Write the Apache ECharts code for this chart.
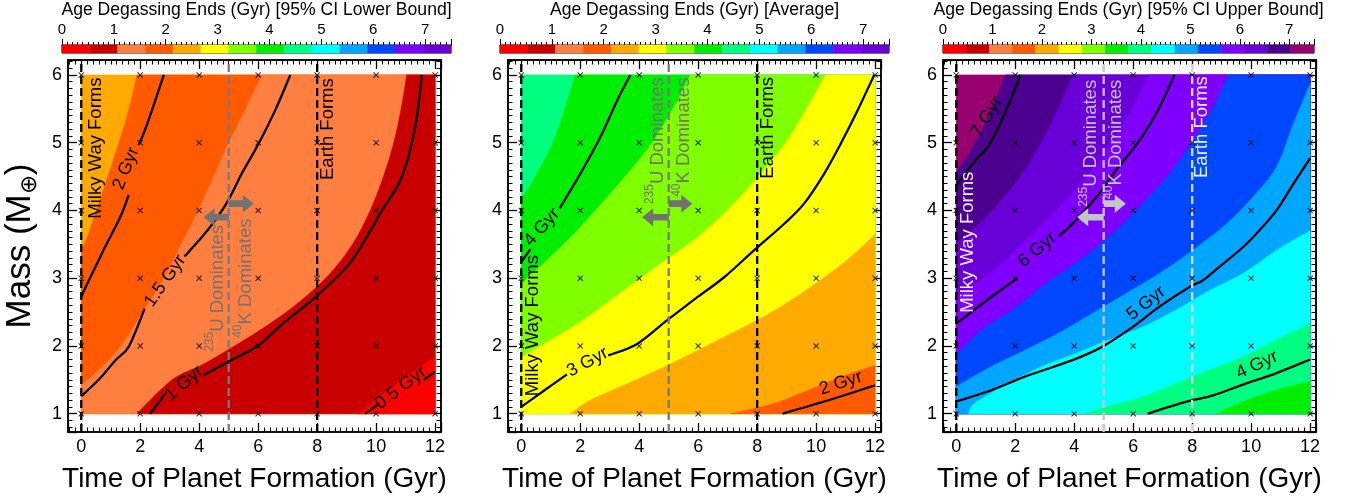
<!DOCTYPE html>
<html><head><meta charset="utf-8">
<script src="https://cdn.jsdelivr.net/npm/echarts@6.0.0/dist/echarts.min.js"></script>
<style>html,body{margin:0;padding:0;background:#fff;}#chart{width:1351px;height:502px;}</style>
</head><body><div id="chart"></div>
<script>
// ================= DATA =================
const formationTimes = [0, 2, 4, 6, 8, 10, 12];     // model grid, Gyr
const planetMasses = [1, 2, 3, 4, 5, 6];            // model grid, Earth masses
const colorbarMax = 7.5;
const bandColors = ['#ff0000','#c80000','#ff7f40','#ff5a00','#ffaa00','#ffff00','#80ff00','#00ee00','#00ff80','#00ffff','#00a6ff','#0048ff','#8000ff','#6a00d8','#4b0090','#990070'];
const bandCounts = [14, 14, 16];
const panelTitles = ['Age Degassing Ends (Gyr) [95% CI Lower Bound]','Age Degassing Ends (Gyr) [Average]','Age Degassing Ends (Gyr) [95% CI Upper Bound]'];

// ---- Panel 1: lower bound. fill boundaries (upper end -> lower end)
const lowBaseBand = 4;
const lowBoundary4 = [[1.89,6],[1.61,5.48],[1.16,4.84],[0.71,4.25],[0.25,3.66],[0,3.4]];
const lowBoundary3 = [[6.13,6],[5.56,5.48],[5.0,4.99],[4.44,4.45],[3.93,3.96],[3.36,3.47],[2.8,2.99],[2.06,2.48],[1.33,1.99],[0.59,1.64],[0,1.42]];
const lowBoundary2 = [[11.04,6],[10.85,5.5],[10.6,5.0],[10.25,4.5],[9.8,4.0],[9.2,3.5],[8.4,3.05],[7.4,2.65],[6.3,2.3],[5.2,2.0],[4.1,1.72],[3.08,1.5],[1.89,1.0]];
const lowBoundary1 = [[12,1.84],[11.33,1.64],[10.65,1.42],[9.97,1.2],[9.41,1.0]];
const lowContour2 = [[2.8,6],[2.4,5.48],[2.12,5.14],[1.95,4.97],null,[1.61,4.23],[1.33,3.91],[0.82,3.47],[0.37,3.07],[0,2.73]];
const lowContour15 = [[7.09,6],[6.58,5.48],[6.02,4.99],[5.45,4.55],[5.0,4.16],[4.55,3.86],[4.1,3.61],[3.5,3.32],null,[2.15,2.55],[1.61,1.99],[1.16,1.79],[0.59,1.5],[0,1.26]];
const lowContour1 = [[11.55,6],[11.33,5.24],[10.88,4.5],[10.2,4.0],[9.75,3.66],[9.07,3.2],[7.94,2.72],[6.81,2.32],[6.02,2.01],[5.0,1.77],[4.15,1.57],null,[2.85,1.3],[2.34,1.0]];
const lowContour05 = [[12,1.62],[11.62,1.5],null,[10.1,1.15],[9.63,1.0]];
const lowLabels = [['2 Gyr',1.52,4.62,68],['1.5 Gyr',2.85,2.96,55],['1 Gyr',3.5,1.45,41],['0.5 Gyr',10.84,1.38,37]];

// ---- Panel 2: average
const avgBaseBand = 8;
const avgBoundary7 = [[1.83,6],[1.49,5.52],[1.1,5.03],[0.65,4.63],[0.19,4.29],[0,4.17]];
const avgBoundary6 = [[5.74,6],[5.17,5.52],[4.49,5.03],[3.7,4.59],[2.8,4.14],[1.89,3.7],[0.98,3.31],[0,2.92]];
const avgBoundary5 = [[10.32,6],[9.7,5.52],[9.02,5.03],[8.12,4.54],[7.1,4.05],[5.97,3.6],[4.72,3.21],[3.48,2.82],[2.23,2.42],[0.98,2.08],[0,1.83]];
const avgBoundary4 = [[12,3.65],[11.17,3.31],[10.27,3.01],[9.14,2.67],[8.0,2.38],[6.87,2.13],[5.74,1.88],[4.61,1.64],[3.48,1.42],[2.34,1.2],[1.66,1.0]];
const avgBoundary3 = [[12,1.71],[10.83,1.54],[9.7,1.34],[8.57,1.15],[7.1,1.0]];
const avgContour4 = [[3.7,6],[3.25,5.62],[2.68,5.08],[2.0,4.54],[1.3,4.03],null,[0.31,3.43],[0,3.24]];
const avgContour3 = [[11.97,6],[11.4,5.47],[10.83,4.98],[10.27,4.54],[9.59,4.1],[8.91,3.8],[7.89,3.41],[6.87,3.01],[5.97,2.72],[4.95,2.38],[3.93,2.03],[2.95,1.86],null,[1.55,1.58],[0.8,1.35],[0,1.1]];
const avgContour2 = [[12,1.42],[10.5,1.21],[8.86,1.0]];
const avgLabels = [['4 Gyr',0.7,3.75,48],['3 Gyr',2.25,1.76,28],['2 Gyr',10.84,1.45,18]];

// ---- Panel 3: upper bound
const highBaseBand = 15;
const highBoundary14 = [[1.67,6],[1.33,5.62],[0.87,5.18],[0.42,4.83],[0,4.56]];
const highBoundary13 = [[3.94,6],[3.48,5.52],[2.92,5.03],[2.24,4.54],[1.44,4.1],[0.65,3.75],[0,3.51]];
const highBoundary12 = [[6.55,6],[5.98,5.52],[5.3,5.03],[4.51,4.54],[3.6,4.1],[2.69,3.71],[1.78,3.31],[0.99,3.02],[0,2.73]];
const highBoundary11 = [[9.22,6],[8.71,5.52],[8.02,5.03],[7.23,4.54],[6.32,4.1],[5.3,3.66],[4.17,3.26],[3.03,2.92],[1.9,2.53],[0.87,2.24],[0,1.87]];
const highBoundary10 = [[12,5.86],[11.43,5.27],[10.86,4.64],[10.07,4.2],[9.16,3.8],[8.02,3.41],[6.89,3.07],[5.75,2.77],[4.62,2.48],[3.48,2.19],[2.35,1.94],[1.21,1.7],[0,1.4]];
const highBoundary9 = [[12,3.7],[10.86,3.41],[9.73,3.07],[8.59,2.82],[7.46,2.53],[6.32,2.28],[5.19,2.09],[4.05,1.89],[2.92,1.7],[1.78,1.45],[0.65,1.16],[0.42,1.0]];
const highBoundary8 = [[12,2.33],[10.86,2.09],[9.73,1.84],[8.59,1.65],[7.46,1.45],[6.32,1.25],[5.19,1.11],[4.39,1.0]];
const highBoundary7 = [[12,1.48],[10.86,1.35],[9.73,1.18],[8.82,1.0]];
const highContour7 = [[2.18,6],[1.78,5.57],[1.38,5.18],[1.04,4.92],[0.65,4.74],[0,4.37]];
const highContour6 = [[7.4,6],[6.89,5.52],[6.21,5.03],[5.41,4.59],[4.85,4.25],[4.05,3.85],[3.48,3.62],null,[2.07,3.0],[1.21,2.73],[0,2.33]];
const highContour5 = [[12,4.77],[11.43,4.39],[10.86,4.0],[10.29,3.71],[9.73,3.46],[8.93,3.17],[8.37,2.97],[7.91,2.87],[6.89,2.58],[5.98,2.28],[4.96,1.99],[3.94,1.79],[2.35,1.55],[1.21,1.35],[0,1.18]];
const highContour4 = [[12,1.8],[10.86,1.6],[9.73,1.43],[8.71,1.27],[7.91,1.19],[7.2,1.1],[6.49,1.0]];
const highLabels = [['7 Gyr',1.04,5.38,58],['6 Gyr',2.75,3.42,40],['5 Gyr',6.44,2.63,38],['4 Gyr',10.2,1.72,25]];

// ---- annotations
const milkyWayText = [[0.5,4.92],[0.38,2.3],[0.38,3.53]];
const earthText = [[8.35,5.2],[8.37,5.22],[8.33,5.23]];
const uraniumText = [[4.55,2.85],[4.55,5.03],[4.5,4.99]];
const potassiumText = [[5.5,3.0],[5.46,5.08],[5.36,5.05]];
const eventTimes = [0, 5, 8];
const crossoverTime = 5;
const arrowLeft = [[3.9,4.15],[3.9,4.1],[3.9,4.1]];
const arrowRight = [[4.1,5.85],[4.1,5.8],[4.1,5.75]];

// ================= BUILD =================
const FONT = '"Liberation Sans", Arial, Helvetica, sans-serif';
const X_LO = 0, X_HI = 12, M_LO = 1, M_HI = 6;
const AX_X = [-0.45, 12.2], AX_Y = [0.73, 6.22];

function regionsFor(base, bounds) {
  const regs = [{curve: null, color: bandColors[base]}];
  bounds.forEach(b => regs.push({curve: b[0], color: bandColors[b[1]]}));
  return regs;
}
function closingCorners(curve) {
  const f = curve[0], l = curve[curve.length - 1], c = [];
  if (l[0] <= X_LO + 1e-9 && l[1] > M_LO) c.push([X_LO, M_LO]);
  c.push([X_HI, M_LO]);
  if (f[1] >= M_HI - 1e-9 && f[0] < X_HI) c.push([X_HI, M_HI]);
  return c;
}
function smoothPath(px) {
  let d = 'M' + px[0][0] + ' ' + px[0][1];
  for (let i = 0; i < px.length - 1; i++) {
    const p0 = px[Math.max(0, i - 1)], p1 = px[i], p2 = px[i + 1], p3 = px[Math.min(px.length - 1, i + 2)];
    const c1 = [p1[0] + (p2[0] - p0[0]) / 6, p1[1] + (p2[1] - p0[1]) / 6];
    const c2 = [p2[0] - (p3[0] - p1[0]) / 6, p2[1] - (p3[1] - p1[1]) / 6];
    d += 'C' + c1[0] + ' ' + c1[1] + ' ' + c2[0] + ' ' + c2[1] + ' ' + p2[0] + ' ' + p2[1];
  }
  return d;
}
function splitSegments(arr) {
  const segs = [[]];
  arr.forEach(p => { if (p === null) segs.push([]); else segs[segs.length - 1].push(p); });
  return segs.filter(s => s.length > 1);
}
const panelRegions = [
  regionsFor(lowBaseBand, [[lowBoundary4,3],[lowBoundary3,2],[lowBoundary2,1],[lowBoundary1,0]]),
  regionsFor(avgBaseBand, [[avgBoundary7,7],[avgBoundary6,6],[avgBoundary5,5],[avgBoundary4,4],[avgBoundary3,3]]),
  regionsFor(highBaseBand, [[highBoundary14,14],[highBoundary13,13],[highBoundary12,12],[highBoundary11,11],[highBoundary10,10],[highBoundary9,9],[highBoundary8,8],[highBoundary7,7]])
];
const panelContours = [
  [lowContour2, lowContour15, lowContour1, lowContour05],
  [avgContour4, avgContour3, avgContour2],
  [highContour7, highContour6, highContour5, highContour4]
];
const panelLabels = [lowLabels, avgLabels, highLabels];
const annColors = [
  {iso:'#727272', milky:'#000', earth:'#000', lines:['#000','#7a7a7a','#000']},
  {iso:'#727272', milky:'#000', earth:'#000', lines:['#000','#7a7a7a','#000']},
  {iso:'#c4c4c4', milky:'#f2ecff', earth:'#f0f0ff', lines:['#000','#c4c4c4','#d6d6d6']}
];

const plotLefts = [68, 508, 943], plotW = 373, plotTop = 60, plotH = 372;
const cbLefts = [62, 500, 943], cbWidths = [389, 389, 371];

function intLabel(v) { const r = Math.round(v); return Math.abs(v - r) < 1e-6 ? String(r) : ''; }

const grids = [], xAxes = [], yAxes = [], series = [];
for (let i = 0; i < 3; i++) grids.push({left: plotLefts[i], top: plotTop, width: plotW, height: plotH, show: true, borderColor: '#000', borderWidth: 1.5, outerBoundsMode: 'none'});
for (let i = 0; i < 3; i++) grids.push({left: cbLefts[i], top: 45, width: cbWidths[i], height: 8, show: true, borderColor: '#000', borderWidth: 1, outerBoundsMode: 'none'});

function plotX(gi, pos, labels) {
  return {type:'value', gridIndex: gi, position: pos, min: AX_X[0], max: AX_X[1], splitNumber: 6,
    axisLine:{show:true, onZero:false, lineStyle:{color:'#000', width:1.5}},
    axisTick:{show:true, inside:true, length:9, lineStyle:{color:'#000', width:1.3}},
    minorTick:{show:true, splitNumber:10, length:4.5, lineStyle:{color:'#000', width:1}},
    splitLine:{show:false}, minorSplitLine:{show:false},
    axisLabel:{show: labels, formatter: intLabel, fontSize:18, color:'#000', margin:6, fontFamily: FONT, hideOverlap:false},
    name: labels ? 'Time of Planet Formation (Gyr)' : '', nameLocation:'middle', nameGap: 33,
    nameTextStyle:{fontSize:28, color:'#000', fontFamily: FONT}};
}
function plotY(gi, pos, labels, name) {
  return {type:'value', gridIndex: gi, position: pos, min: AX_Y[0], max: AX_Y[1], splitNumber: 5,
    axisLine:{show:true, onZero:false, lineStyle:{color:'#000', width:1.5}},
    axisTick:{show:true, inside:true, length:9, lineStyle:{color:'#000', width:1.3}},
    minorTick:{show:true, splitNumber:10, length:4.5, lineStyle:{color:'#000', width:1}},
    splitLine:{show:false}, minorSplitLine:{show:false},
    axisLabel:{show: labels, formatter: intLabel, fontSize:18, color:'#000', margin:6, fontFamily: FONT, hideOverlap:false},
    name: name || '', nameLocation:'middle', nameGap: 27, nameRotate: 90,
    nameTextStyle:{fontSize:35, color:'#000', fontFamily: FONT, rich:{sub:{fontSize:23, fontFamily: FONT, color:'#000', verticalAlign:'bottom', lineHeight:42}, n:{fontSize:35, fontFamily: FONT, color:'#000', lineHeight:42}}}};
}
for (let i = 0; i < 3; i++) {
  xAxes.push(plotX(i, 'bottom', true));
  xAxes.push(plotX(i, 'top', false));
  yAxes.push(plotY(i, 'left', true, i === 0 ? '{n|Mass (M}{sub|⊕}{n|)}' : ''));
  yAxes.push(plotY(i, 'right', false, ''));
}
for (let i = 0; i < 3; i++) {
  xAxes.push({type:'value', gridIndex: 3 + i, position:'top', min:0, max: colorbarMax, splitNumber:7,
    axisLine:{show:true, onZero:false, lineStyle:{color:'#000', width:1}},
    axisTick:{show:true, inside:false, length:6, lineStyle:{color:'#000', width:1}},
    minorTick:{show:true, splitNumber:10, length:3, lineStyle:{color:'#000', width:1}},
    splitLine:{show:false},
    axisLabel:{formatter: intLabel, fontSize:15, color:'#000', margin:8, fontFamily: FONT, hideOverlap:false},
    name: panelTitles[i], nameLocation:'middle', nameGap: 26,
    nameTextStyle:{fontSize:17.6, color:'#000', fontFamily: FONT}});
  yAxes.push({type:'value', gridIndex: 3 + i, min:0, max:1, show:false});
}

for (let i = 0; i < 3; i++) {
  const xi = 2 * i, yi = 2 * i;
  const regs = panelRegions[i];
  // filled bands
  series.push({type:'custom', xAxisIndex: xi, yAxisIndex: yi, z:1, silent:true, animation:false,
    data: regs.map((r, k) => [6, 3, k]),
    renderItem: (params, api) => {
      const r = regs[api.value(2)];
      let d;
      if (!r.curve) {
        const c = [[X_LO,M_LO],[X_HI,M_LO],[X_HI,M_HI],[X_LO,M_HI]].map(p => api.coord(p));
        d = 'M' + c.map(p => p[0] + ' ' + p[1]).join('L') + 'Z';
      } else {
        d = smoothPath(r.curve.map(p => api.coord(p))) + closingCorners(r.curve).map(p => { const q = api.coord(p); return 'L' + q[0] + ' ' + q[1]; }).join('') + 'Z';
      }
      return {type:'path', shape:{pathData: d}, style:{fill: r.color, stroke: r.color, lineWidth: 0.6}};
    }});
  // contour lines
  const segs = [];
  panelContours[i].forEach(c => splitSegments(c).forEach(s => segs.push(s)));
  series.push({type:'custom', xAxisIndex: xi, yAxisIndex: yi, z:3, silent:true, animation:false,
    data: segs.map((s, k) => [s[0][0], s[0][1], k]),
    renderItem: (params, api) => {
      const s = segs[api.value(2)];
      return {type:'path', shape:{pathData: smoothPath(s.map(p => api.coord(p)))}, style:{fill: null, stroke:'#000', lineWidth: 2.3, lineJoin:'round'}};
    }});
  // vertical event lines
  const lc = annColors[i].lines;
  series.push({type:'custom', xAxisIndex: xi, yAxisIndex: yi, z:4, silent:true, clip:false, animation:false,
    data: eventTimes.map((t, k) => [t, 3, k]),
    renderItem: (params, api) => {
      const k = api.value(2), t = eventTimes[k];
      const a = api.coord([t, AX_Y[0]]), b = api.coord([t, AX_Y[1]]);
      return {type:'line', shape:{x1:a[0], y1:a[1], x2:b[0], y2:b[1]}, style:{stroke: lc[k], lineWidth:2.3, lineDash:[8,4]}};
    }});
  // model grid markers
  const pts = [];
  formationTimes.forEach(t => planetMasses.forEach(m => pts.push([t, m])));
  series.push({type:'scatter', xAxisIndex: xi, yAxisIndex: yi, data: pts, z:5, silent:true, animation:false,
    symbol:'path://M0,1.2L1.2,0L5,3.8L8.8,0L10,1.2L6.2,5L10,8.8L8.8,10L5,6.2L1.2,10L0,8.8L3.8,5Z', symbolSize:6,
    itemStyle:{color:'#000'}});
  // arrows
  const arrows = [[crossoverTime, arrowLeft[i][0], arrowLeft[i][1]], [crossoverTime, arrowRight[i][0], arrowRight[i][1]]];
  const ac = annColors[i].iso;
  series.push({type:'custom', xAxisIndex: xi, yAxisIndex: yi, z:6, silent:true, clip:false, animation:false,
    data: arrows.map((a, k) => [a[0], a[1], k]),
    renderItem: (params, api) => {
      const a = arrows[api.value(2)];
      const s = api.coord([a[0], a[1]]), e = api.coord([a[2], a[1]]);
      const dir = e[0] < s[0] ? -1 : 1, hl = 11, hw = 9, sw = 3.3;
      const hx = e[0] - dir * hl, y = s[1];
      const ptsA = [[s[0], y - sw], [hx, y - sw], [hx, y - hw], [e[0], y], [hx, y + hw], [hx, y + sw], [s[0], y + sw]];
      return {type:'polygon', shape:{points: ptsA}, style:{fill: ac}};
    }});
  // texts
  const texts = [];
  panelLabels[i].forEach(l => texts.push({t: l[0], x: l[1], y: l[2], r: l[3], c: '#000', s: 18}));
  texts.push({t:'Milky Way Forms', x: milkyWayText[i][0], y: milkyWayText[i][1], r: 90, c: annColors[i].milky, s: 18.5});
  texts.push({t:'Earth Forms', x: earthText[i][0], y: earthText[i][1], r: 90, c: annColors[i].earth, s: 18.5});
  texts.push({t:'{sup|235}{n|U Dominates}', x: uraniumText[i][0], y: uraniumText[i][1], r: 90, c: annColors[i].iso, s: 18.5, rich: true});
  texts.push({t:'{sup|40}{n|K Dominates}', x: potassiumText[i][0], y: potassiumText[i][1], r: 90, c: annColors[i].iso, s: 18.5, rich: true});
  series.push({type:'custom', xAxisIndex: xi, yAxisIndex: yi, z:7, silent:true, clip:false, animation:false,
    data: texts.map((t, k) => [t.x, t.y, k]),
    renderItem: (params, api) => {
      const t = texts[api.value(2)];
      const p = api.coord([t.x, t.y]);
      const style = {text: t.t, fill: t.c, fontSize: t.s, fontFamily: FONT, align:'center', verticalAlign:'middle'};
      if (t.rich) style.rich = {
        sup: {fontSize: 12, fontFamily: FONT, fill: t.c, verticalAlign: 'top', lineHeight: 12},
        n: {fontSize: t.s, fontFamily: FONT, fill: t.c, verticalAlign: 'bottom', lineHeight: 23}
      };
      return {type:'text', x: p[0], y: p[1], rotation: t.r * Math.PI / 180, style};
    }});
}
// colorbars
for (let i = 0; i < 3; i++) {
  const n = bandCounts[i], w = colorbarMax / n;
  series.push({type:'custom', xAxisIndex: 6 + i, yAxisIndex: 6 + i, z:1, silent:true, animation:false,
    data: bandColors.slice(0, n).map((c, k) => [k * w, 0.5, k]),
    renderItem: (params, api) => {
      const k = api.value(2);
      const a = api.coord([k * w, 1]), b = api.coord([(k + 1) * w, 0]);
      return {type:'rect', shape:{x: a[0], y: a[1], width: b[0] - a[0], height: b[1] - a[1]}, style:{fill: bandColors[k], stroke: bandColors[k], lineWidth: 0.5}};
    }});
}

const chart = echarts.init(document.getElementById('chart'), null, {renderer:'canvas'});
chart.setOption({animation:false, backgroundColor:'#fff', textStyle:{fontFamily: FONT},
  grid: grids, xAxis: xAxes, yAxis: yAxes, series});
</script></body></html>
